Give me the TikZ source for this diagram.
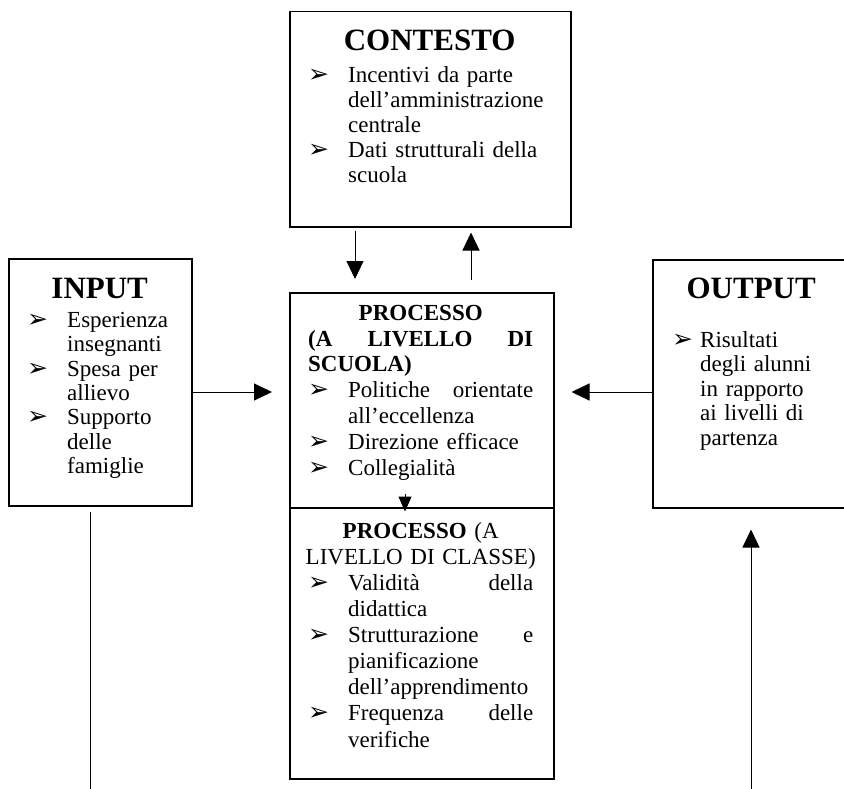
\documentclass[tikz,border=0pt]{standalone}
\usepackage{fontspec}
\setmainfont{Liberation Serif}
\newfontfamily\frecfont{DejaVu Sans}
\usetikzlibrary{arrows.meta,calc}

\newcommand{\corpo}[1]{\fontsize{23}{#1}\selectfont\hyphenpenalty=10000\relax}
\newcommand{\titolo}{\fontsize{31}{35}\selectfont\bfseries}
\newcommand{\punto}[1][40pt]{\makebox[#1][l]{\frecfont\fontsize{25}{25}\selectfont ➢}}
\newcommand{\rientro}[1][40pt]{\hspace*{#1}}
\newcommand{\riga}[1]{\makebox[\linewidth][s]{\spaceskip=.25em plus 1fil\xspaceskip=.25em plus 1fil\relax #1}}

\tikzset{
  riquadro/.style={draw, line width=1.5pt, inner sep=0pt, anchor=north west},
  testo/.style={inner sep=0pt, anchor=north west, align=left},
  freccia/.style={-{Triangle[length=18pt,width=17pt]}, line width=1pt},
  linea/.style={line width=1pt}
}

\begin{document}
\begin{tikzpicture}[x=1pt,y=-1pt]
\clip (0,0) rectangle (844,789);

\node[riquadro, minimum width=281pt, minimum height=215pt] (contesto) at (289,11) {};
\node[riquadro, minimum width=183pt, minimum height=247pt] (input) at (8,258) {};
\node[riquadro, minimum width=264pt, minimum height=215pt] (scuola) at (289,292) {};
\node[riquadro, minimum width=264pt, minimum height=271pt] (classe) at (289,507) {};
\node[riquadro, minimum width=198pt, minimum height=248pt] (output) at (652,259) {};

\node[testo, text width=243pt, font=\corpo{24.8}] (tcontesto) at (308,26) {\rule{0pt}{24pt}\makebox[\linewidth]{\titolo CONTESTO}\\[8pt]
\punto Incentivi da parte\\
\rientro dell'amministrazione\\
\rientro centrale\\
\punto Dati strutturali della\\
\rientro scuola};

\node[testo, text width=145pt, font=\corpo{24.4}] (tinput) at (27,274) {\rule{0pt}{24pt}\makebox[\linewidth]{\titolo INPUT}\\[4.6pt]
\punto Esperienza\\
\rientro insegnanti\\
\punto Spesa per\\
\rientro allievo\\
\punto Supporto\\
\rientro delle\\
\rientro famiglie};

\node[testo, text width=158pt, font=\corpo{24.5}] (toutput) at (672,274) {\rule{0pt}{24pt}\makebox[\linewidth]{\titolo OUTPUT}\\[24.5pt]
\punto[28pt]Risultati\\
\rientro[28pt]degli alunni\\
\rientro[28pt]in rapporto\\
\rientro[28pt]ai livelli di\\
\rientro[28pt]partenza};

\node[testo, text width=225pt, font=\corpo{25.8}] (tscuola) at (308,300) {\rule{0pt}{20pt}\makebox[\linewidth]{\bfseries PROCESSO}\\
\riga{\bfseries (A LIVELLO DI}\\
\textbf{SCUOLA)}\\
\riga{\punto Politiche orientate}\\
\rientro all'eccellenza\\
\punto Direzione efficace\\
\punto Collegialità};

\node[testo, text width=225pt, font=\corpo{26.1}] (tclasse) at (308,518) {\rule{0pt}{20pt}\makebox[\linewidth]{\textbf{PROCESSO} (A}\\
\makebox[\linewidth]{LIVELLO DI CLASSE)}\\
\riga{\punto Validità della}\\
\rientro didattica\\
\riga{\punto Strutturazione e}\\
\rientro pianificazione\\
\rientro dell'apprendimento\\
\riga{\punto Frequenza delle}\\
\rientro verifiche};

\coordinate (riga) at (0,392);
\coordinate (colA) at (355,0);
\coordinate (colB) at (471,0);
\coordinate (colC) at (405,0);
\coordinate (fondoS) at (90,800);
\coordinate (fondoD) at (751,800);

\draw[freccia, shorten <=3pt, shorten >=13pt] (contesto.south -| colA) -- (scuola.north -| colA);
\draw[freccia, shorten <=12pt, shorten >=5pt] (scuola.north -| colB) -- (contesto.south -| colB);
\draw[freccia, shorten >=17pt] (input.east |- riga) -- (scuola.west |- riga);
\draw[freccia, shorten >=17pt] (output.west |- riga) -- (scuola.east |- riga);
\draw[-{Triangle[length=15pt,width=13pt]}, line width=1pt, shorten >=-3pt] ($(colC |- scuola.south)+(0,-15)$) -- (colC |- scuola.south);
\draw[linea, shorten <=5pt] (input.south -| fondoS) -- (fondoS);
\draw[freccia, shorten >=21pt] (fondoD) -- (output.south -| fondoD);
\end{tikzpicture}
\end{document}
